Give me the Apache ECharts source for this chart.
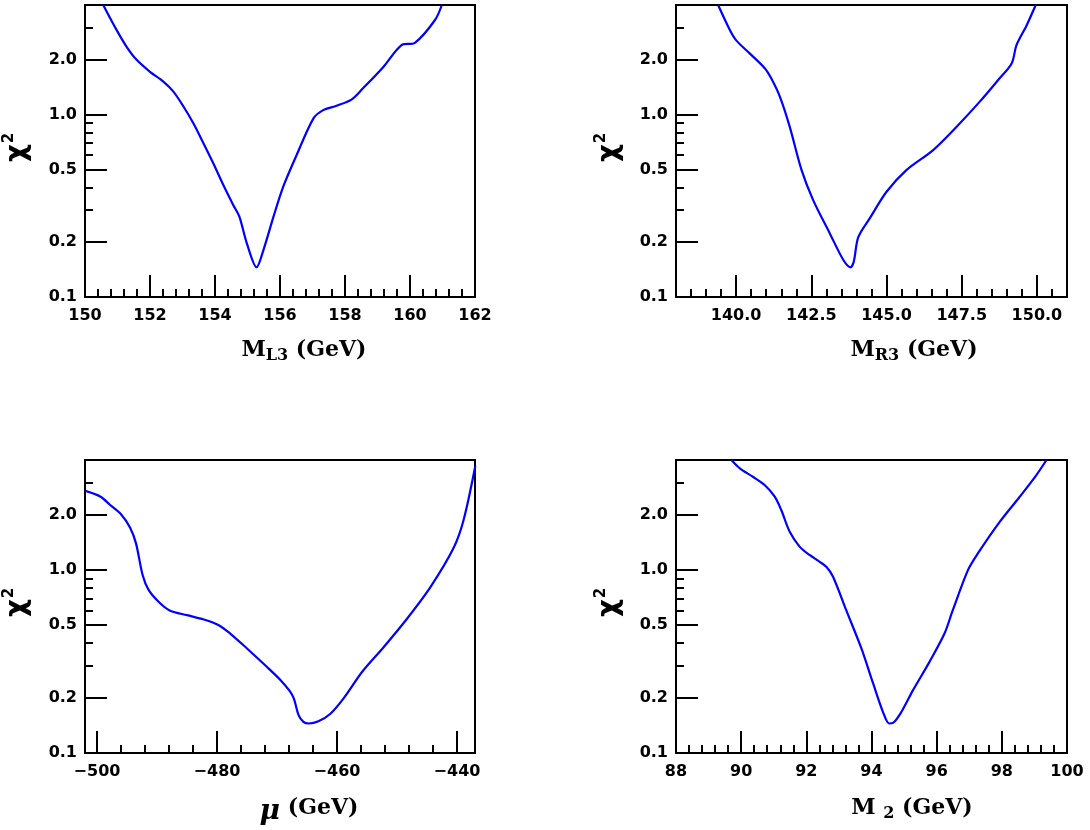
<!DOCTYPE html>
<html><head><meta charset="utf-8">
<script src="https://cdn.jsdelivr.net/npm/echarts@6/dist/echarts.min.js"></script>
<style>html,body{margin:0;padding:0;background:#fff}#c{width:1090px;height:830px}</style>
</head><body><div id="c"></div>
<script>
// ---- data ----
const ml3X = [150.56,150.97,151.28,151.59,152.0,152.41,152.72,153.03,153.33,153.64,153.95,154.26,154.56,154.75,154.98,155.28,155.49,155.80,156.10,156.51,157.03,157.33,157.74,158.21,158.56,159.18,159.74,160.15,160.77,160.98];
const ml3Y = [4.0,2.92,2.36,2.0,1.72,1.52,1.34,1.11,0.90,0.70,0.54,0.41,0.32,0.276,0.197,0.1456,0.181,0.276,0.403,0.60,0.955,1.06,1.12,1.215,1.40,1.83,2.41,2.48,3.31,4.0];

const mr3X = [139.40,139.79,140.01,140.45,140.95,141.17,141.45,141.78,142.17,142.56,143.11,143.56,143.80,143.91,144.06,144.44,145.0,145.66,146.55,147.33,148.10,148.71,149.16,149.32,149.66,149.96];
const mr3Y = [4.0,2.92,2.55,2.17,1.80,1.58,1.26,0.86,0.50,0.34,0.224,0.160,0.1455,0.156,0.213,0.270,0.378,0.497,0.640,0.859,1.18,1.55,1.91,2.41,3.1,4.0];

const muX = [-501.95,-499.4,-497.8,-496.1,-494.5,-493.5,-492.4,-491.4,-489.7,-487.8,-485.0,-482.2,-479.7,-477.8,-475.0,-471.7,-469.4,-467.9,-467.2,-466.4,-465.6,-464.7,-463.1,-461.1,-458.9,-455.8,-452.2,-448.3,-444.4,-440.6,-438.9,-436.95];
const muY = [2.71,2.52,2.27,2.04,1.71,1.40,0.94,0.78,0.67,0.60,0.567,0.537,0.50,0.45,0.373,0.296,0.25,0.2185,0.199,0.161,0.148,0.145,0.149,0.164,0.199,0.278,0.38,0.544,0.81,1.315,1.88,3.71];

const m2X = [89.70,89.96,90.36,90.72,91.03,91.23,91.49,91.80,92.10,92.41,92.62,92.82,93.23,93.69,94.05,94.35,94.54,94.66,94.92,95.27,95.78,96.24,96.49,96.96,97.26,97.94,98.55,99.06,99.37];
const m2Y = [4.0,3.6,3.24,2.92,2.52,2.13,1.62,1.34,1.21,1.11,1.04,0.92,0.60,0.373,0.24,0.168,0.145,0.146,0.168,0.22,0.315,0.45,0.60,1.0,1.23,1.84,2.52,3.31,4.0];

// ---- tick values / labels ----
const yMajor = [0.1, 0.2, 0.5, 1, 2];
const yMinor = [0.3, 0.4, 0.6, 0.7, 0.8, 0.9, 3];
const ml3Major = [150, 152, 154, 156, 158, 160, 162];
const mr3Major = [140, 142.5, 145, 147.5, 150];
const muMajor = [-500, -480, -460, -440];
const m2Major = [88, 90, 92, 94, 96, 98, 100];

function minorTicks(start, end, step, majors) {
  const out = [];
  for (let k = 0; start + k * step <= end + 1e-9; k++) {
    const v = Math.round((start + k * step) * 1e6) / 1e6;
    if (!majors.some(m => Math.abs(m - v) < 1e-6)) out.push(v);
  }
  return out;
}

const labelFont = {fontFamily: 'DejaVu Sans', fontWeight: 'bold', fontSize: 16, color: '#000'};
const minus = v => (v < 0 ? '\u2212' + Math.abs(v) : String(v));

const panels = [
  {left: 85, top: 5, w: 390, h: 292, xmin: 150, xmax: 162, xMajor: ml3Major, xMinor: minorTicks(150, 162, 0.4, ml3Major), fmt: v => String(v), x: ml3X, y: ml3Y},
  {left: 676, top: 5, w: 391, h: 292, xmin: 138, xmax: 151, xMajor: mr3Major, xMinor: minorTicks(138, 151, 0.5, mr3Major), fmt: v => v.toFixed(1), x: mr3X, y: mr3Y},
  {left: 85, top: 460, w: 390, h: 293, xmin: -502, xmax: -437, xMajor: muMajor, xMinor: minorTicks(-500, -437, 4, muMajor), fmt: minus, x: muX, y: muY},
  {left: 676, top: 460, w: 391, h: 293, xmin: 88, xmax: 100, xMajor: m2Major, xMinor: minorTicks(88, 100, 0.4, m2Major), fmt: v => String(v), x: m2X, y: m2Y}
];

const option = {animation: false, backgroundColor: '#fff', grid: [], xAxis: [], yAxis: [], series: [], graphic: []};

panels.forEach((p, i) => {
  option.grid.push({left: p.left, top: p.top, width: p.w, height: p.h, show: true, borderColor: '#000', borderWidth: 2, backgroundColor: 'transparent', outerBoundsMode: 'none'});
  const tickStyle = {color: '#000', width: 2};
  option.xAxis.push({gridIndex: i, type: 'value', position: 'bottom', min: p.xmin, max: p.xmax,
    axisLine: {show: false}, splitLine: {show: false},
    axisTick: {show: true, inside: true, length: 22, lineStyle: tickStyle, customValues: p.xMajor},
    axisLabel: Object.assign({show: true, margin: 11, customValues: p.xMajor, formatter: p.fmt}, labelFont)});
  option.xAxis.push({gridIndex: i, type: 'value', position: 'bottom', min: p.xmin, max: p.xmax,
    axisLine: {show: false}, splitLine: {show: false}, axisLabel: {show: false},
    axisTick: {show: true, inside: true, length: 8, lineStyle: tickStyle, customValues: p.xMinor}});
  option.yAxis.push({gridIndex: i, type: 'log', logBase: 10, position: 'left', min: 0.1, max: 4.0,
    axisLine: {show: false}, splitLine: {show: false},
    axisTick: {show: true, inside: true, length: 22, lineStyle: tickStyle, customValues: yMajor},
    axisLabel: Object.assign({show: true, margin: 8, customValues: yMajor, formatter: v => Number(v).toFixed(1)}, labelFont)});
  option.yAxis.push({gridIndex: i, type: 'log', logBase: 10, position: 'left', offset: 0, min: 0.1, max: 4.0,
    axisLine: {show: false}, splitLine: {show: false}, axisLabel: {show: false},
    axisTick: {show: true, inside: true, length: 8, lineStyle: tickStyle, customValues: yMinor}});
  option.series.push({type: 'line', xAxisIndex: 2 * i, yAxisIndex: 2 * i,
    data: p.x.map((v, k) => [v, p.y[k]]), showSymbol: false, symbol: 'none', smooth: 0.3,
    lineStyle: {color: '#0000ff', width: 2.2}, clip: true});
});

function xTitle(x, y, main, sub, subPad) {
  return {type: 'text', x: x, y: y, style: {
    text: '{m|' + main + '}{s|' + sub + '}{g| (GeV)}', align: 'center', verticalAlign: 'middle',
    rich: {
      m: {fontFamily: 'DejaVu Serif', fontWeight: 'bold', fontSize: 22, color: '#000'},
      s: {fontFamily: 'DejaVu Serif', fontWeight: 'bold', fontSize: 16, color: '#000', padding: [subPad, 0, 0, 0]},
      g: {fontFamily: 'DejaVu Serif', fontWeight: 'bold', fontSize: 22, color: '#000'}
    }}};
}
option.graphic.push(xTitle(304, 350, 'M', 'L3', 12));
option.graphic.push(xTitle(914, 350, 'M', 'R3', 12));
option.graphic.push({type: 'text', x: 309, y: 808, style: {
  text: '{mu|\u03bc}{g| (GeV)}', align: 'center', verticalAlign: 'middle',
  rich: {
    mu: {fontFamily: 'DejaVu Serif', fontStyle: 'italic', fontWeight: 'bold', fontSize: 28, color: '#000', padding: [8, 0, 0, 0]},
    g: {fontFamily: 'DejaVu Serif', fontWeight: 'bold', fontSize: 22, color: '#000'}
  }}});
option.graphic.push(xTitle(912, 808, 'M ', '2', 12));

// chi^2 titles (rotated)
function chi(cx, cy) {
  return [
    {type: 'text', x: cx - 4, y: cy, rotation: Math.PI / 2, style: {text: '\u03c7', align: 'center', verticalAlign: 'middle', fontFamily: 'DejaVu Sans', fontWeight: 'bold', fontSize: 28, fill: '#000'}},
    {type: 'text', x: cx - 13, y: cy - 15, rotation: Math.PI / 2, style: {text: '2', align: 'center', verticalAlign: 'middle', fontFamily: 'DejaVu Sans', fontWeight: 'bold', fontSize: 15, fill: '#000'}}
  ];
}
option.graphic.push(...chi(22, 153), ...chi(614, 153), ...chi(22, 608), ...chi(614, 608));

const chart = echarts.init(document.getElementById('c'), null, {renderer: 'canvas'});
chart.setOption(option);
</script></body></html>
